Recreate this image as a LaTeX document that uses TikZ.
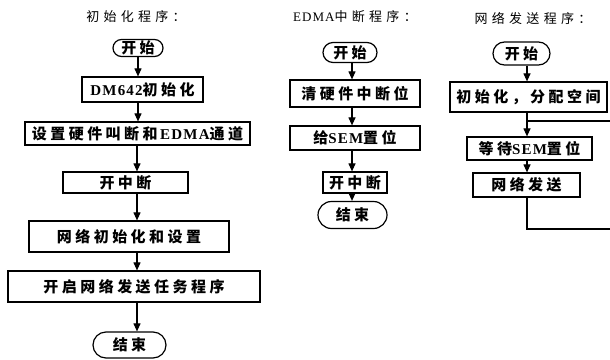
\documentclass[tikz,border=0pt]{standalone}
\usepackage{fontspec}
\setmainfont{Liberation Serif}[LetterSpace=8]
\newfontfamily\cjk{Noto Sans CJK SC}[LetterSpace=23]
\newfontfamily\cjkt{Noto Sans CJK SC}[LetterSpace=33]
\usetikzlibrary{shapes.misc,arrows.meta}
\newcommand\zh[1]{{\cjk #1}}
\newcommand\zt[1]{{\cjkt #1}}
\tikzset{
  pbox/.style={draw, line width=1.2pt, inner sep=0pt, font=\fontsize{15}{17}\selectfont\bfseries},
  term/.style={draw, rounded rectangle, line width=1.2pt, inner sep=0pt, font=\fontsize{15}{17}\selectfont\bfseries},
  ttl/.style={inner sep=0pt, font=\fontsize{13}{15}\selectfont},
  arr/.style={line width=1.1pt, -{Triangle[length=8pt,width=7pt]}},
  ln/.style={line width=1.1pt}
}
\begin{document}
\begin{tikzpicture}[x=1pt,y=-1pt]
\clip (0,0) rectangle (610,359);
\fill[white] (0,0) rectangle (610,359);
% column 1
\node[ttl] (t1) at (136,17) {\zt{初始化程序：}};
\node[term, minimum width=50pt, minimum height=17pt] (s1) at (138,48) {\zh{开始}};
\node[pbox, minimum width=121pt, minimum height=25pt] (a1) at (142.5,89.5) {DM642\zh{初始化}};
\node[pbox, minimum width=225pt, minimum height=23pt] (a2) at (137.5,133.5) {\zh{设置硬件叫断和}\,EDMA\zh{通道}};
\node[pbox, minimum width=125pt, minimum height=21pt] (a3) at (125.5,182.5) {\zh{开中断}};
\node[pbox, minimum width=200pt, minimum height=31pt] (a4) at (129,236.5) {\zh{网络初始化和设置}};
\node[pbox, minimum width=252pt, minimum height=31pt] (a5) at (134,286.5) {\zh{开启网络发送任务程序}};
\node[term, minimum width=73pt, minimum height=26pt] (e1) at (129.5,345) {\zh{结束}};
\draw[arr] (s1.south) -- (s1.south |- a1.north);
\draw[arr] (s1.south |- a1.south) -- (s1.south |- a2.north);
\draw[arr] ([xshift=-1pt]s1.south |- a2.south) -- ([xshift=-1pt]s1.south |- a3.north);
\draw[arr] ([xshift=-1pt]s1.south |- a3.south) -- ([xshift=-1pt]s1.south |- a4.north);
\draw[arr] ([xshift=-1pt]s1.south |- a4.south) -- ([xshift=-1pt]s1.south |- a5.north);
\draw[arr] ([xshift=-1pt]s1.south |- a5.south) -- ([xshift=-1pt]s1.south |- e1.north);
% column 2
\node[ttl] (t2) at (355,17) {EDMA\zt{中断程序：}};
\node[term, minimum width=54pt, minimum height=20pt] (s2) at (350,52.5) {\zh{开始}};
\node[pbox, minimum width=130pt, minimum height=27pt] (b1) at (355,93.5) {\zh{清硬件中断位}};
\node[pbox, minimum width=130pt, minimum height=24pt] (b2) at (355,138) {\zh{给}SEM\zh{置位}};
\node[pbox, minimum width=64pt, minimum height=21pt] (b3) at (355,182.5) {\zh{开中断}};
\node[term, minimum width=69pt, minimum height=27pt] (e2) at (352.5,215) {\zh{结束}};
\coordinate (x2) at (352,0);
\draw[arr] (x2 |- s2.south) -- (x2 |- b1.north);
\draw[arr] (x2 |- b1.south) -- (x2 |- b2.north);
\draw[arr] (x2 |- b2.south) -- (x2 |- b3.north);
\draw[arr] (x2 |- b3.south) -- (x2 |- e2.north);
% column 3
\node[ttl] (t3) at (533,18) {\zt{网络发送程序：}};
\node[term, minimum width=57pt, minimum height=23pt] (s3) at (521.5,53.5) {\zh{开始}};
\node[pbox, minimum width=157pt, minimum height=30pt] (c1) at (528.5,97) {\zh{初始化，分配空间}};
\node[pbox, minimum width=125pt, minimum height=23pt] (c2) at (529.5,148.5) {\zh{等待}SEM\zh{置位}};
\node[pbox, minimum width=107pt, minimum height=24pt] (c3) at (526.5,185) {\zh{网络发送}};
\coordinate (x3) at (527,0);
\coordinate (lt) at (616,121);
\coordinate (lb) at (616,229);
\draw[arr] (x3 |- s3.south) -- (x3 |- c1.north);
\draw[arr] (x3 |- c1.south) -- (x3 |- c2.north);
\draw[arr] (x3 |- c2.south) -- (x3 |- c3.north);
\draw[ln] (x3 |- c3.south) |- (lb) -- (lt) -- (x3 |- lt);
\end{tikzpicture}
\end{document}
